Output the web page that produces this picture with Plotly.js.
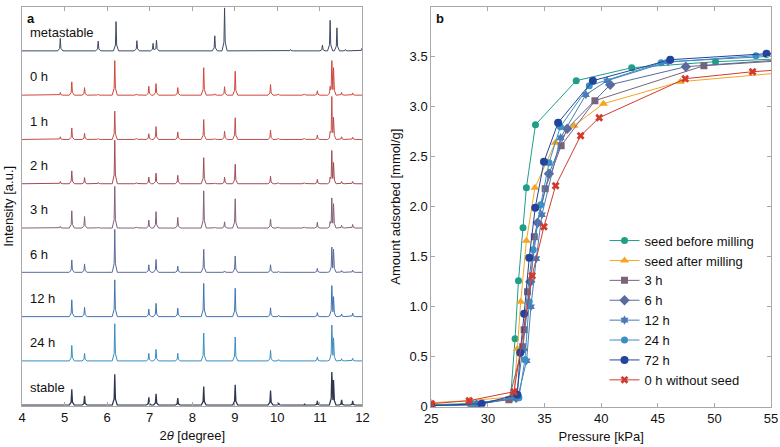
<!DOCTYPE html>
<html>
<head>
<meta charset="utf-8">
<script src="https://cdn.plot.ly/plotly-3.0.1.min.js"></script>
<style>html,body{margin:0;padding:0;background:#fff;}#chart{width:780px;height:447px;}</style>
</head>
<body>
<div id="chart"></div>
<script>
// ---------- Panel a: XRD patterns (peak positions in 2θ and relative heights) ----------
const patternNames = ["metastable", "0 h", "1 h", "2 h", "3 h", "6 h", "12 h", "24 h", "stable"];
const patternColors = ["#3d4a60", "#cf463b", "#bf4f4b", "#a04b56", "#806078", "#5a6a9a", "#3e74b0", "#3a8cc0", "#2e3650"];

const metaPos = [4.90, 5.79, 6.21, 6.70, 7.08, 7.16, 8.53, 8.76, 10.31, 11.06, 11.24, 11.40, 11.60, 11.99];
const metaH   = [0.28, 0.22, 0.66, 0.23, 0.17, 0.24, 0.34, 0.97, 0.03, 0.13, 0.69, 0.52, 0.03, 0.06];

const peakPos = [4.90, 5.17, 5.47, 5.79, 6.18, 6.70, 6.98, 7.15, 7.66, 8.27, 8.53, 8.76, 9.01, 9.84, 10.03, 10.64, 10.94, 11.24, 11.28, 11.32, 11.51, 11.77];
const h0h     = [0.06, 0.30, 0.17, 0.02, 0.78, 0.02, 0.20, 0.26, 0.17, 0.62, 0.03, 0.19, 0.54, 0.24, 0.02, 0.02, 0.10, 0.20, 0.78, 0.62, 0.06, 0.05];
const h1h     = [0.06, 0.26, 0.14, 0.02, 0.64, 0.02, 0.13, 0.29, 0.17, 0.45, 0.02, 0.19, 0.49, 0.21, 0.02, 0.02, 0.10, 0.18, 0.97, 0.50, 0.06, 0.05];
const h2h     = [0.05, 0.29, 0.14, 0.03, 0.98, 0.02, 0.15, 0.24, 0.19, 0.59, 0.02, 0.15, 0.44, 0.17, 0.02, 0.02, 0.10, 0.15, 0.75, 0.48, 0.05, 0.05];
const h3h     = [0.04, 0.39, 0.26, 0.02, 0.94, 0.02, 0.18, 0.37, 0.24, 0.84, 0.02, 0.14, 0.66, 0.20, 0.02, 0.02, 0.13, 0.15, 0.68, 0.55, 0.06, 0.08];
const h6h     = [0.00, 0.28, 0.19, 0.00, 0.97, 0.00, 0.17, 0.29, 0.14, 0.52, 0.00, 0.03, 0.37, 0.17, 0.02, 0.00, 0.09, 0.05, 0.57, 0.52, 0.04, 0.05];
const h12h    = [0.00, 0.38, 0.21, 0.00, 0.83, 0.00, 0.17, 0.30, 0.19, 0.75, 0.00, 0.00, 0.64, 0.20, 0.03, 0.01, 0.09, 0.05, 0.70, 0.45, 0.06, 0.08];
const h24h    = [0.00, 0.35, 0.17, 0.00, 0.84, 0.00, 0.17, 0.26, 0.17, 0.63, 0.00, 0.00, 0.54, 0.24, 0.03, 0.01, 0.09, 0.05, 0.81, 0.52, 0.05, 0.06];
const hStable = [0.00, 0.36, 0.21, 0.00, 0.70, 0.00, 0.18, 0.26, 0.16, 0.42, 0.00, 0.00, 0.46, 0.33, 0.05, 0.02, 0.10, 0.00, 0.75, 0.57, 0.12, 0.10];

const twoThetaTicks = [4, 5, 6, 7, 8, 9, 10, 11, 12];

// ---------- Panel b: adsorption isotherms ----------
const seriesNames = ["seed before milling", "seed after milling", "3 h", "6 h", "12 h", "24 h", "72 h", "0 h without seed"];
const seriesColors = ["#1f9e88", "#f5a524", "#7b6378", "#5a6a9c", "#4a7ab6", "#3a8fc3", "#22459b", "#d23a2e"];
const seriesSymbols = ["circle", "triangle-up", "square", "diamond", "hexagram", "circle", "circle", "x"];
const seriesSizes = [7, 8, 7, 8, 7, 7, 8, 7];

const pSeedBefore = [25, 28.5, 32.0, 32.4, 32.7, 33.1, 33.4, 34.2, 37.8, 42.7, 50.1, 56.0];
const aSeedBefore = [0.02, 0.03, 0.08, 0.68, 1.26, 1.79, 2.19, 2.82, 3.26, 3.39, 3.45, 3.48];
const pSeedAfter  = [25, 28.4, 32.3, 32.6, 32.9, 33.4, 34.15, 35.95, 37.6, 40.2, 47.0, 56.0];
const aSeedAfter  = [0.04, 0.06, 0.10, 0.58, 1.05, 1.66, 2.19, 2.64, 2.81, 3.03, 3.25, 3.34];
const p3h  = [25, 28.5, 31.85, 33.07, 33.2, 33.5, 34.1, 35.06, 36.47, 39.45, 49.07, 56.0];
const a3h  = [0.01, 0.02, 0.07, 0.60, 0.77, 1.15, 1.70, 2.18, 2.61, 3.06, 3.41, 3.46];
const p6h  = [25, 29.0, 32.5, 33.07, 33.74, 34.39, 35.39, 37.0, 40.8, 47.48, 56.0];
const a6h  = [0.01, 0.02, 0.09, 0.57, 1.25, 1.84, 2.33, 2.78, 3.22, 3.40, 3.47];
const p12h = [25, 29.0, 32.65, 33.42, 33.8, 34.27, 34.77, 36.42, 38.65, 40.53, 45.9, 56.0];
const a12h = [0.01, 0.02, 0.10, 0.46, 1.00, 1.48, 1.92, 2.69, 3.12, 3.26, 3.45, 3.51];
const p24h = [25, 28.6, 32.74, 33.27, 33.65, 34.0, 34.66, 35.4, 36.4, 38.95, 45.3, 53.66, 56.0];
const a24h = [0.01, 0.03, 0.09, 0.47, 1.05, 1.57, 2.02, 2.44, 2.80, 3.21, 3.44, 3.51, 3.53];
const p72h = [25, 29.45, 32.6, 32.85, 33.2, 33.65, 34.18, 34.95, 36.2, 39.27, 46.1, 54.6, 56.0];
const a72h = [0.01, 0.03, 0.12, 0.54, 0.93, 1.49, 1.99, 2.45, 2.84, 3.26, 3.47, 3.53, 3.54];
const pNoSeed = [25, 28.35, 32.3, 33.91, 34.95, 35.98, 38.19, 39.83, 47.42, 53.37, 56.0];
const aNoSeed = [0.03, 0.06, 0.15, 1.31, 1.80, 2.21, 2.71, 2.89, 3.28, 3.35, 3.37];

const pressureTicks = [25, 30, 35, 40, 45, 50, 55];
const amountTickVals = [0, 0.5, 1, 1.5, 2, 2.5, 3, 3.5, 4];
const amountTickText = ["0", "0.5", "1.0", "1.5", "2.0", "2.5", "3.0", "3.5", "4.0"];

// ---------- build traces ----------
const FONT = "Liberation Sans, Arial, Helvetica, sans-serif";
const W = 0.06; // half width of a drawn peak (degrees)

function peakProfile(pos, hts, off) {
  const pk = [];
  pos.forEach((p, i) => { if (hts[i] > 0) pk.push([p, hts[i]]); });
  let nodes = [4, 12];
  pk.forEach(([p]) => nodes.push(p - W, p - W / 4, p, p + W / 4, p + W));
  nodes = Array.from(new Set(nodes.map(v => +v.toFixed(4)))).filter(v => v >= 4 && v <= 12).sort((a, b) => a - b);
  const ys = nodes.map(x => {
    let m = 0;
    pk.forEach(([p, h]) => {
      const d = Math.abs(x - p);
      let v = 0;
      if (d <= W / 4) v = h * (1 - 0.8 * d / (W / 4));
      else if (d < W) v = h * 0.2 * (W - d) / (W - W / 4);
      if (v > m) m = v;
    });
    return off + 0.01 + m;
  });
  return { x: nodes, y: ys };
}

const patterns = [
  [metaPos, metaH], [peakPos, h0h], [peakPos, h1h], [peakPos, h2h], [peakPos, h3h],
  [peakPos, h6h], [peakPos, h12h], [peakPos, h24h], [peakPos, hStable]
];

const traces = [];
const annotations = [];
patterns.forEach(([pos, hts], i) => {
  const off = patternNames.length - 1 - i;
  const prof = peakProfile(pos, hts, off);
  traces.push({
    x: prof.x, y: prof.y, xaxis: "x", yaxis: "y", type: "scatter", mode: "lines",
    line: { color: patternColors[i], width: i === 8 ? 1.3 : 1 },
    showlegend: false, hoverinfo: "skip", name: patternNames[i]
  });
  annotations.push({
    x: 4.14, y: off + 0.42, xref: "x", yref: "y", text: patternNames[i], showarrow: false,
    xanchor: "left", yanchor: "middle", font: { family: FONT, size: 13, color: "#111" }
  });
});

const isoP = [pSeedBefore, pSeedAfter, p3h, p6h, p12h, p24h, p72h, pNoSeed];
const isoA = [aSeedBefore, aSeedAfter, a3h, a6h, a12h, a24h, a72h, aNoSeed];
seriesNames.forEach((nm, i) => {
  traces.push({
    x: isoP[i], y: isoA[i], xaxis: "x2", yaxis: "y2", type: "scatter", mode: "lines+markers",
    name: nm, line: { color: seriesColors[i], width: 1 },
    marker: { symbol: seriesSymbols[i], size: seriesSizes[i], color: seriesColors[i], line: { width: 0 } }
  });
});

annotations.push({ x: 0.0282, y: 0.984, xref: "paper", yref: "paper", text: "<b>a</b>", showarrow: false,
  xanchor: "left", yanchor: "top", xshift: 3, yshift: -2, font: { family: FONT, size: 13, color: "#111" } });
annotations.push({ x: 0.5529, y: 0.984, xref: "paper", yref: "paper", text: "<b>b</b>", showarrow: false,
  xanchor: "left", yanchor: "top", xshift: 3, yshift: -2, font: { family: FONT, size: 13, color: "#111" } });

const axisCommon = {
  showgrid: false, zeroline: false, showline: true, linecolor: "#a8a8a8", linewidth: 1,
  ticks: "inside", ticklen: 4, tickcolor: "#a8a8a8", mirror: "ticks",
  tickfont: { family: FONT, size: 13, color: "#111" }
};

const layout = {
  width: 780, height: 447,
  margin: { l: 0, r: 0, t: 0, b: 0 },
  paper_bgcolor: "#fff", plot_bgcolor: "#fff",
  font: { family: FONT, size: 13, color: "#111" },
  xaxis: Object.assign({}, axisCommon, {
    domain: [0.0282, 0.4647], range: [4, 12], tickvals: twoThetaTicks, anchor: "y",
    title: { text: "2<i>θ</i> [degree]", font: { family: FONT, size: 13 }, standoff: 6 }
  }),
  yaxis: Object.assign({}, axisCommon, {
    domain: [0.0925, 0.9843], range: [0, 9], anchor: "x", ticks: "", showticklabels: false, mirror: true,
    title: { text: "Intensity [a.u.]", font: { family: FONT, size: 13 }, standoff: 4 }
  }),
  xaxis2: Object.assign({}, axisCommon, {
    domain: [0.5529, 0.9885], range: [25, 55], tickvals: pressureTicks, anchor: "y2",
    title: { text: "Pressure [kPa]", font: { family: FONT, size: 13 }, standoff: 6 }
  }),
  yaxis2: Object.assign({}, axisCommon, {
    domain: [0.0902, 0.985], range: [0, 4], tickvals: amountTickVals, ticktext: amountTickText, anchor: "x2",
    title: { text: "Amount adsorbed [mmol/g]", font: { family: FONT, size: 13 }, standoff: 6 }
  }),
  legend: {
    x: 0.775, y: 0.115, xanchor: "left", yanchor: "bottom", bgcolor: "rgba(255,255,255,0)",
    font: { family: FONT, size: 13, color: "#111" }, itemwidth: 30, tracegroupgap: 0
  },
  annotations: annotations,
  showlegend: true
};

Plotly.newPlot("chart", traces, layout, { staticPlot: true, displayModeBar: false });
</script>
</body>
</html>
